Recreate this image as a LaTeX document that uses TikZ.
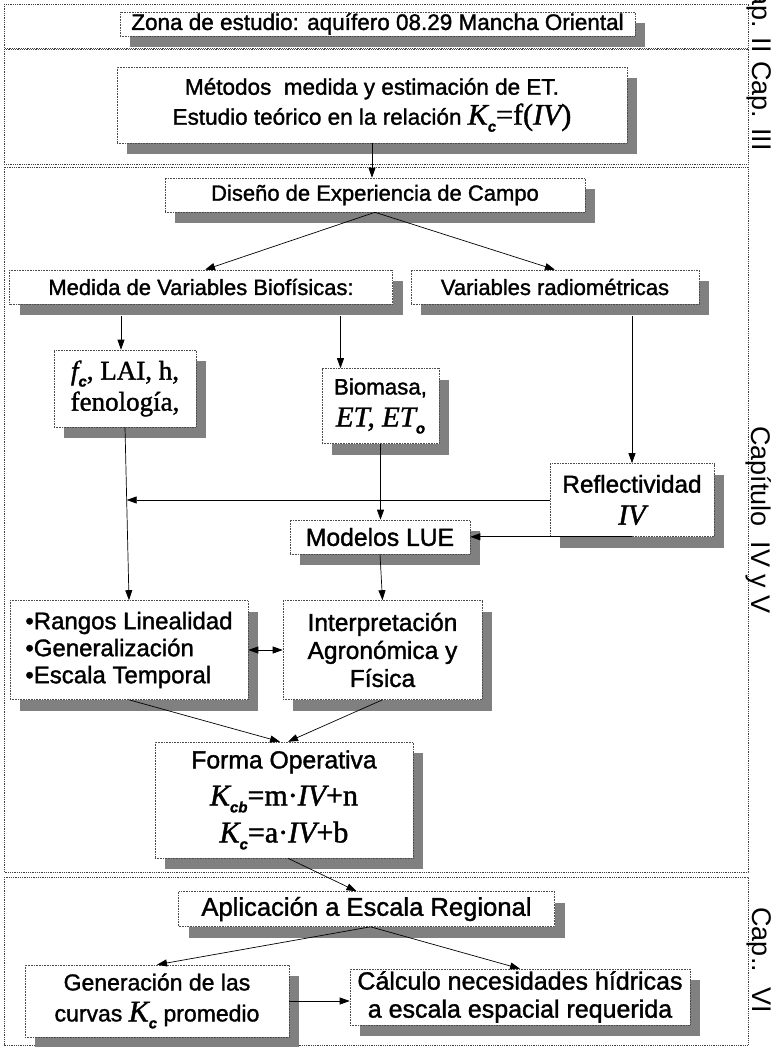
\documentclass[tikz,border=0pt]{standalone}
\usepackage{fontspec}
\setmainfont[FakeBold=1.4,BoldFont={Liberation Sans Bold}]{Liberation Sans}
\newfontfamily\tnr[FakeBold=1.4]{Liberation Serif}
\newfontfamily\plain{Liberation Sans}
\usetikzlibrary{shadows,arrows.meta,calc}
\definecolor{shadowgray}{HTML}{808080}
\newcommand{\fsz}[1]{\fontsize{#1}{#1}\selectfont}
\newcommand{\sbs}[1]{\raisebox{-7pt}{\normalfont\fsz{15}\bfseries\itshape #1}}
\newcommand{\KK}{{\tnr\itshape\fsz{30}K}}
\newcommand{\tn}[1]{{\tnr\fsz{30}#1}}
\newcommand{\ti}[1]{{\tnr\itshape\fsz{30}#1}}
\begin{document}
\begin{tikzpicture}[x=1pt,y=-1pt,
  box/.style={draw=black!70, densely dotted, line width=0.6pt, fill=white, inner sep=0pt, align=center,
    general shadow={fill=shadowgray, draw=none, shadow xshift=10pt, shadow yshift=-11pt}},
  frame/.style={draw=black!75, densely dotted, line width=0.8pt},
  arr/.style={-{Triangle[length=10pt,width=7pt]}, line width=0.7pt},
  dbl/.style={{Triangle[length=10pt,width=7pt]}-{Triangle[length=10pt,width=7pt]}, line width=0.7pt},
  side/.style={rotate=-90, font=\plain\fsz{27}, inner sep=0pt}]
\useasboundingbox (0,0) rectangle (775,1047);
% frames
\draw[frame] (4,4) rectangle (748,48);
\draw[frame] (4,49) rectangle (748,164);
\draw[frame] (4,167) rectangle (748,872);
\draw[frame] (4,877) rectangle (748,1045);
% side labels
\node[side] (capII) at (759,12) {Cap. II};
\node[side] (capIII) at (759,106) {Cap. III};
\node[side] (capIV) at (759,520) {Capítulo\ \ IV y V};
\node[side] (capVI) at (759,960) {Cap..\ \ VI};
% boxes
\node[box, minimum width=515, minimum height=24, font=\fsz{22.5}] (zona) at (377.5,24) {Zona de estudio: aquífero 08.29 Mancha Oriental};
\node[box, minimum width=510, minimum height=76, font=\fontsize{22.5}{30}\selectfont] (metodos) at (372,105)
  {Métodos\ \ medida y estimación de ET.\\Estudio teórico en la relación \KK\sbs{c}\tn{=f(}\ti{IV}\tn{)}};
\node[box, minimum width=420, minimum height=34, font=\fsz{22}] (diseno) at (375,195) {Diseño de Experiencia de Campo};
\node[box, minimum width=383, minimum height=34, font=\fsz{22}] (medida) at (201,287) {Medida de Variables Biofísicas:};
\node[box, minimum width=288, minimum height=34, font=\fsz{22}] (radiom) at (555,287) {Variables radiométricas};
\node[box, minimum width=142, minimum height=77, font=\fontsize{27}{31}\selectfont] (fc) at (125,388.5)
  {{\tnr\itshape f}\sbs{c}{\tnr, LAI, h,}\\{\tnr fenología,}};
\node[box, minimum width=117, minimum height=75, font=\fontsize{22.3}{32}\selectfont] (biomasa) at (380.5,406)
  {Biomasa,\\{\tnr\itshape\fsz{29}ET, ET}\sbs{o}};
\node[box, minimum width=164, minimum height=73, font=\fontsize{24.3}{32}\selectfont] (refl) at (632,500)
  {Reflectividad\\{\tnr\itshape\fsz{29}IV}};
\node[box, minimum width=180, minimum height=34, font=\fsz{24.7}] (modelos) at (380,537) {Modelos LUE};
\node[box, minimum width=238, minimum height=99, align=left, font=\fontsize{24}{27}\selectfont] (rangos) at (129,650)
  {•Rangos Linealidad\\•Generalización\\•Escala Temporal};
\node[box, minimum width=199, minimum height=99, font=\fontsize{24.5}{28}\selectfont] (interp) at (382.5,650)
  {Interpretación\\Agronómica y\\Física};
\node[box, minimum width=258, minimum height=116, font=\fontsize{24.7}{37}\selectfont] (forma) at (284,800)
  {Forma Operativa\\\KK\sbs{cb}\tn{=m·}\ti{IV}\tn{+n}\\\KK\sbs{c}\tn{=a·}\ti{IV}\tn{+b}};
\node[box, minimum width=376, minimum height=35, font=\fsz{25.6}] (aplic) at (366.5,909) {Aplicación a Escala Regional};
\node[box, minimum width=264, minimum height=72, font=\fontsize{23}{31}\selectfont] (gen) at (157,1001)
  {Generación de las\\curvas \KK\sbs{c} promedio};
\node[box, minimum width=340, minimum height=56, font=\fontsize{25}{28}\selectfont] (calc) at (520,997)
  {Cálculo necesidades hídricas\\a escala espacial requerida};
% connectors
\draw[arr] (metodos.south) -- (metodos.south |- diseno.north);
\draw[arr] (diseno.south) -- ([xshift=4pt]medida.north);
\draw[arr] (diseno.south) -- (radiom.north);
\draw[arr] ($(medida.south -| fc.north)+(-4,12)$) -- ($(fc.north)+(-4,0)$);
\coordinate (b1) at ($(biomasa.north)+(-40,0)$);
\draw[arr] ($(medida.south -| b1)+(0,12)$) -- (b1);
\draw[arr] ($(radiom.south -| refl.north)+(0,12)$) -- (refl.north);
\draw[arr] (fc.south) -- (rangos.north);
\coordinate (j1) at ($(fc.south)!0.42!(rangos.north)$);
\draw[arr] (refl.west) -- (refl.west -| j1);
\draw[arr] (refl.south) -- (refl.south -| modelos.east);
\draw[arr] (biomasa.south) -- (biomasa.south |- modelos.north);
\draw[arr] (modelos.south) -- (interp.north);
\draw[dbl] (rangos.east) -- (interp.west);
\draw[arr] (rangos.south) -- ([xshift=-4pt]forma.north);
\draw[arr] (interp.south) -- ([xshift=4pt]forma.north);
\draw[arr] ([xshift=4pt]forma.south) -- ([xshift=-10pt]aplic.north);
\draw[arr] ([xshift=4pt]aplic.south) -- (gen.north);
\draw[arr] ([xshift=4pt]aplic.south) -- (calc.north);
\draw[arr] (gen.east) -- (gen.east -| calc.west);
\end{tikzpicture}
\end{document}
